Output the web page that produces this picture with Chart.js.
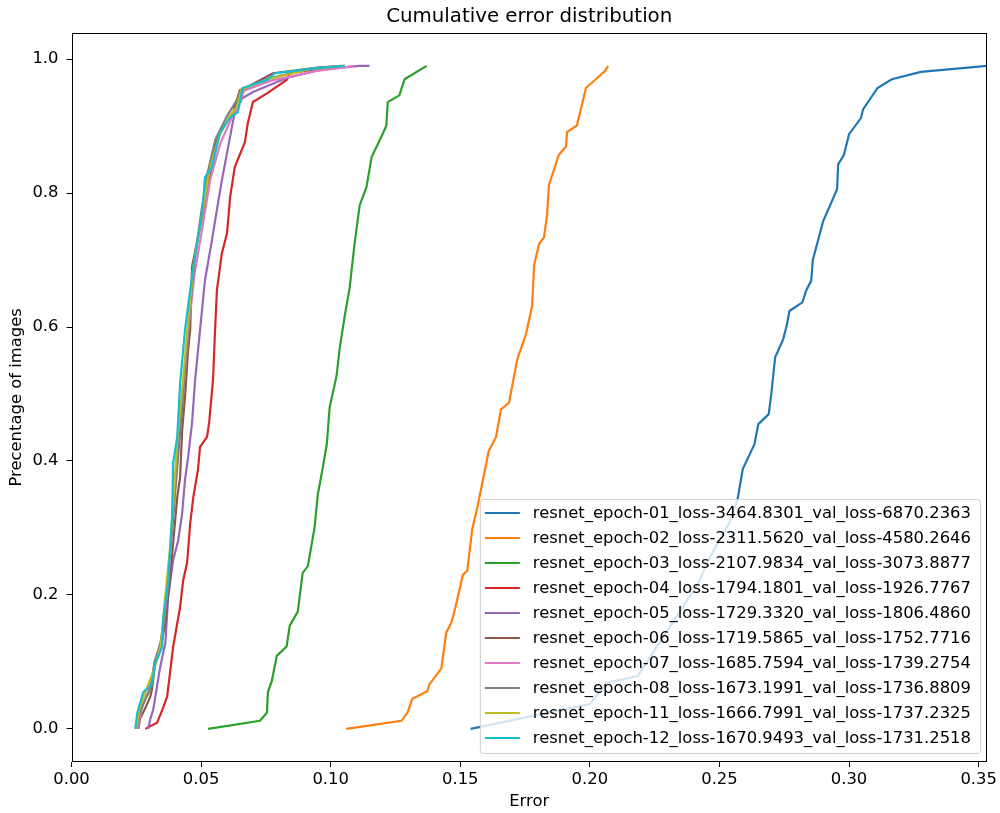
<!DOCTYPE html>
<html>
<head>
<meta charset="utf-8">
<script src="https://cdn.jsdelivr.net/npm/chart.js@4.4.1/dist/chart.umd.min.js"></script>
<style>
  html, body { margin: 0; padding: 0; background: #fff; }
  #chart { display: block; }
</style>
</head>
<body>
<canvas id="chart" width="1000" height="813"></canvas>
<script>
// Points: [error, fraction of images]
const epoch01 = [[0.154,0],[0.200,0.037],[0.2065,0.069],[0.2185,0.079],[0.234,0.171],[0.242,0.219],[0.246,0.254],[0.254,0.309],[0.257,0.343],[0.259,0.388],[0.2635,0.425],[0.265,0.455],[0.269,0.47],[0.270,0.5],[0.2715,0.555],[0.2746,0.582],[0.276,0.603],[0.277,0.624],[0.282,0.637],[0.2835,0.655],[0.2854,0.669],[0.286,0.7],[0.290,0.758],[0.2935,0.789],[0.2954,0.806],[0.2958,0.843],[0.298,0.857],[0.300,0.888],[0.3046,0.912],[0.3054,0.925],[0.311,0.957],[0.3165,0.97],[0.3277,0.981],[0.3532,0.99]];
const epoch02 = [[0.106,0],[0.1273,0.012],[0.1296,0.024],[0.1315,0.045],[0.1373,0.056],[0.138,0.066],[0.1427,0.09],[0.1446,0.144],[0.1465,0.158],[0.1477,0.175],[0.1496,0.206],[0.151,0.23],[0.1527,0.236],[0.1546,0.298],[0.1565,0.329],[0.1585,0.367],[0.161,0.415],[0.1638,0.436],[0.1657,0.477],[0.1688,0.487],[0.172,0.552],[0.1754,0.59],[0.1777,0.631],[0.1785,0.693],[0.1804,0.724],[0.1823,0.734],[0.1835,0.768],[0.1842,0.812],[0.188,0.857],[0.1908,0.87],[0.1912,0.891],[0.195,0.901],[0.1985,0.957],[0.2023,0.97],[0.206,0.983],[0.207,0.99]];
const epoch03 = [[0.0527,0],[0.0727,0.012],[0.0754,0.024],[0.0758,0.055],[0.0773,0.072],[0.0792,0.109],[0.083,0.123],[0.0842,0.154],[0.0873,0.175],[0.0892,0.233],[0.0912,0.243],[0.0938,0.301],[0.095,0.349],[0.097,0.391],[0.0985,0.425],[0.0996,0.48],[0.1023,0.528],[0.1035,0.569],[0.1054,0.616],[0.1073,0.658],[0.1092,0.724],[0.1112,0.782],[0.1138,0.809],[0.1158,0.854],[0.12,0.888],[0.1215,0.901],[0.122,0.936],[0.1265,0.946],[0.1285,0.97],[0.137,0.99]];
const epoch04 = [[0.0285,0],[0.033,0.009],[0.035,0.028],[0.0369,0.048],[0.0392,0.122],[0.0419,0.182],[0.0431,0.222],[0.0446,0.248],[0.0458,0.307],[0.047,0.346],[0.0488,0.387],[0.0496,0.421],[0.0523,0.436],[0.0531,0.457],[0.0546,0.521],[0.0554,0.596],[0.0561,0.655],[0.058,0.71],[0.06,0.74],[0.0612,0.794],[0.063,0.839],[0.0669,0.876],[0.068,0.904],[0.07,0.936],[0.0754,0.949],[0.083,0.969],[0.0842,0.979],[0.0958,0.986],[0.104,0.99]];
const epoch05 = [[0.0296,0],[0.0304,0.015],[0.0315,0.028],[0.0342,0.092],[0.0362,0.128],[0.0373,0.197],[0.0392,0.252],[0.0412,0.282],[0.0427,0.322],[0.0438,0.372],[0.045,0.406],[0.0465,0.457],[0.0477,0.521],[0.0496,0.596],[0.0515,0.67],[0.0542,0.73],[0.0561,0.775],[0.058,0.819],[0.06,0.86],[0.0619,0.899],[0.063,0.921],[0.066,0.942],[0.07,0.951],[0.083,0.972],[0.0958,0.984],[0.111,0.99],[0.115,0.99]];
const epoch06 = [[0.0258,0],[0.0265,0.016],[0.0285,0.031],[0.0304,0.048],[0.031,0.058],[0.0323,0.098],[0.0342,0.118],[0.0362,0.158],[0.038,0.227],[0.0392,0.277],[0.0408,0.346],[0.0419,0.376],[0.0427,0.446],[0.0438,0.496],[0.045,0.566],[0.0458,0.596],[0.0465,0.69],[0.0496,0.749],[0.0523,0.8],[0.0535,0.83],[0.0561,0.884],[0.0585,0.899],[0.0623,0.919],[0.0638,0.939],[0.065,0.954],[0.0677,0.958],[0.0777,0.979],[0.0958,0.988],[0.1054,0.99]];
const epoch07 = [[0.0255,0],[0.027,0.03],[0.0295,0.055],[0.0325,0.1],[0.035,0.14],[0.0368,0.2],[0.0385,0.28],[0.04,0.36],[0.0415,0.44],[0.0435,0.52],[0.0452,0.6],[0.0475,0.68],[0.051,0.76],[0.0535,0.82],[0.0575,0.875],[0.0615,0.91],[0.065,0.935],[0.0665,0.953],[0.077,0.968],[0.094,0.982],[0.109,0.99]];
const epoch08 = [[0.0252,0],[0.026,0.02],[0.028,0.04],[0.0305,0.06],[0.032,0.1],[0.0345,0.13],[0.036,0.18],[0.038,0.26],[0.0395,0.33],[0.041,0.4],[0.0425,0.47],[0.044,0.55],[0.0455,0.62],[0.0475,0.7],[0.05,0.77],[0.0525,0.83],[0.0555,0.88],[0.06,0.915],[0.064,0.94],[0.066,0.955],[0.075,0.97],[0.09,0.984],[0.104,0.99]];
const epoch11 = [[0.025,0],[0.0262,0.03],[0.029,0.06],[0.032,0.09],[0.0345,0.125],[0.036,0.19],[0.038,0.27],[0.0395,0.35],[0.0408,0.43],[0.043,0.52],[0.0448,0.6],[0.047,0.69],[0.0505,0.77],[0.053,0.83],[0.057,0.885],[0.061,0.915],[0.064,0.93],[0.0655,0.955],[0.076,0.97],[0.092,0.985],[0.1055,0.99]];
const epoch12 = [[0.0246,0],[0.0254,0.024],[0.0277,0.055],[0.031,0.066],[0.0323,0.098],[0.035,0.122],[0.0354,0.167],[0.0373,0.218],[0.0388,0.316],[0.0392,0.397],[0.0408,0.436],[0.0419,0.516],[0.0438,0.596],[0.0446,0.62],[0.047,0.69],[0.0504,0.77],[0.0515,0.824],[0.0542,0.839],[0.0573,0.89],[0.0612,0.913],[0.0642,0.921],[0.066,0.957],[0.0754,0.969],[0.0785,0.979],[0.0958,0.987],[0.1054,0.99]];

const seriesData = [epoch01, epoch02, epoch03, epoch04, epoch05, epoch06, epoch07, epoch08, epoch11, epoch12];
const seriesLabels = [
  'resnet_epoch-01_loss-3464.8301_val_loss-6870.2363',
  'resnet_epoch-02_loss-2311.5620_val_loss-4580.2646',
  'resnet_epoch-03_loss-2107.9834_val_loss-3073.8877',
  'resnet_epoch-04_loss-1794.1801_val_loss-1926.7767',
  'resnet_epoch-05_loss-1729.3320_val_loss-1806.4860',
  'resnet_epoch-06_loss-1719.5865_val_loss-1752.7716',
  'resnet_epoch-07_loss-1685.7594_val_loss-1739.2754',
  'resnet_epoch-08_loss-1673.1991_val_loss-1736.8809',
  'resnet_epoch-11_loss-1666.7991_val_loss-1737.2325',
  'resnet_epoch-12_loss-1670.9493_val_loss-1731.2518'
];
const seriesColors = ['#1f77b4', '#ff7f0e', '#2ca02c', '#d62728', '#9467bd', '#8c564b', '#e377c2', '#7f7f7f', '#bcbd22', '#17becf'];

const xTickValues = [0, 0.05, 0.1, 0.15, 0.2, 0.25, 0.3, 0.35];
const yTickValues = [0, 0.2, 0.4, 0.6, 0.8, 1.0];

const FONT = 'DejaVu Sans';
const TXT = 16.4;

// matplotlib-like closed axes box
const framePlugin = {
  id: 'frame',
  afterDatasetsDraw(chart) {
    const { ctx, chartArea: a } = chart;
    ctx.save();
    ctx.strokeStyle = '#000';
    ctx.lineWidth = 1;
    ctx.strokeRect(Math.round(a.left) + 0.5, Math.round(a.top) + 0.5, Math.round(a.right - a.left) - 1, Math.round(a.bottom - a.top) - 1);
    ctx.restore();
  }
};

// legend in the lower right corner of the axes, as matplotlib draws it
const boxLegend = {
  id: 'boxLegend',
  afterDraw(chart) {
    const { ctx, chartArea: a } = chart;
    const rowH = 25, handle = 35, gap = 13, padL = 5, padR = 9, padT = 14, padB = 15;
    ctx.save();
    ctx.font = `${TXT}px "${FONT}"`;
    const textW = Math.max(...seriesLabels.map(t => ctx.measureText(t).width));
    const w = padL + handle + gap + textW + padR;
    const h = padT + rowH * (seriesLabels.length - 1) + padB;
    const x = a.right - 7 - w, y = a.bottom - 9 - h;

    ctx.beginPath();
    ctx.roundRect(x + 0.5, y + 0.5, w, h, 3);
    ctx.fillStyle = 'rgba(255,255,255,0.8)';
    ctx.fill();
    ctx.strokeStyle = '#d0d0d0';
    ctx.lineWidth = 1;
    ctx.stroke();

    ctx.textBaseline = 'middle';
    ctx.textAlign = 'left';
    seriesLabels.forEach((label, i) => {
      const cy = y + padT + i * rowH;
      ctx.beginPath();
      ctx.moveTo(x + padL, cy);
      ctx.lineTo(x + padL + handle, cy);
      ctx.strokeStyle = seriesColors[i];
      ctx.lineWidth = 2.2;
      ctx.stroke();
      ctx.fillStyle = '#000';
      ctx.fillText(label, x + padL + handle + gap, cy + 1);
    });
    ctx.restore();
  }
};

new Chart(document.getElementById('chart'), {
  type: 'line',
  data: {
    datasets: seriesData.map((pts, i) => ({
      label: seriesLabels[i],
      data: pts.map(([x, y]) => ({ x, y })),
      borderColor: seriesColors[i],
      backgroundColor: seriesColors[i],
      borderWidth: 2.2,
      pointRadius: 0,
      tension: 0,
      fill: false,
      order: seriesData.length - i // later series on top, like matplotlib
    }))
  },
  options: {
    responsive: false,
    animation: false,
    layout: { padding: { left: 0, right: 11, top: 0, bottom: 0 } },
    plugins: {
      legend: { display: false },
      tooltip: { enabled: false },
      title: {
        display: true,
        fullSize: false,
        text: 'Cumulative error distribution',
        color: '#000',
        font: { family: FONT, size: 19.8, weight: 'normal' },
        padding: { top: 5, bottom: 4 }
      }
    },
    scales: {
      x: {
        type: 'linear',
        min: 0,
        max: 0.3532,
        afterFit(scale) { scale.height = 51; },
        afterBuildTicks(scale) { scale.ticks = xTickValues.map(v => ({ value: v })); },
        ticks: {
          autoSkip: false,
          maxRotation: 0,
          padding: 3,
          color: '#000',
          font: { family: FONT, size: TXT },
          callback: v => Number(v).toFixed(2)
        },
        grid: { drawOnChartArea: false, drawTicks: true, tickLength: 5, tickColor: '#000', tickWidth: 1 },
        border: { display: false },
        title: {
          display: true,
          text: 'Error',
          color: '#000',
          font: { family: FONT, size: TXT },
          padding: { top: 0, bottom: 1 }
        }
      },
      y: {
        type: 'linear',
        min: -0.0495,
        max: 1.0395,
        afterFit(scale) { scale.width = 71.5; },
        afterBuildTicks(scale) { scale.ticks = yTickValues.map(v => ({ value: v })); },
        ticks: {
          autoSkip: false,
          padding: 8,
          color: '#000',
          font: { family: FONT, size: TXT },
          callback: v => Number(v).toFixed(1)
        },
        grid: { drawOnChartArea: false, drawTicks: true, tickLength: 5, tickColor: '#000', tickWidth: 1 },
        border: { display: false },
        title: {
          display: true,
          text: 'Precentage of images',
          color: '#000',
          font: { family: FONT, size: TXT },
          padding: { top: 7, bottom: 0 }
        }
      }
    }
  },
  plugins: [framePlugin, boxLegend]
});
</script>
</body>
</html>
